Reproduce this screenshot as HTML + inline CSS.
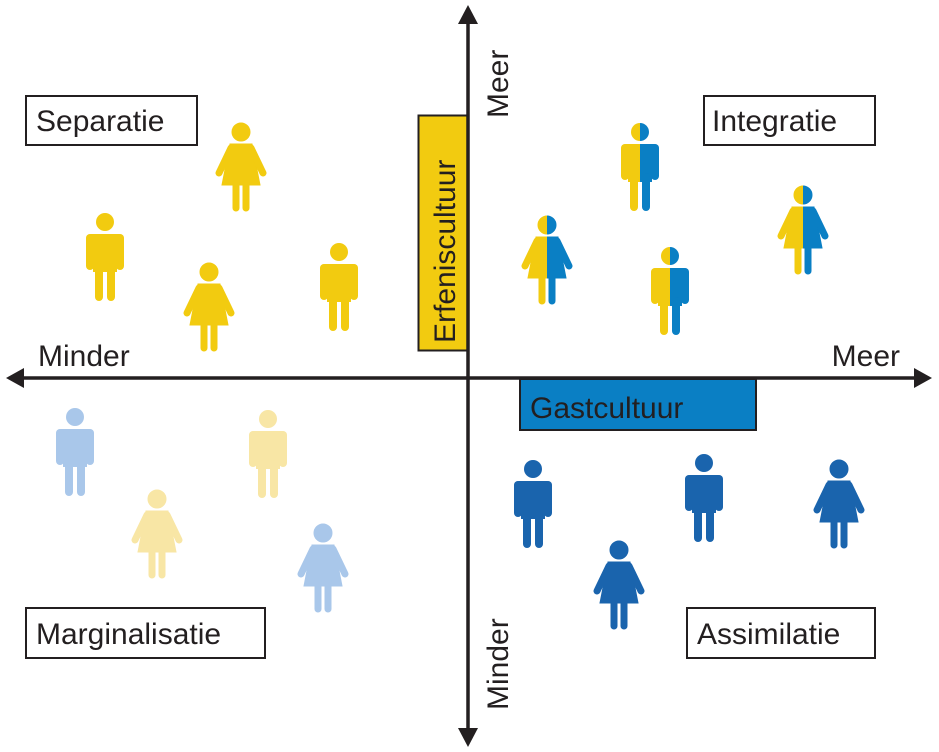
<!DOCTYPE html>
<html><head><meta charset="utf-8"><style>body{margin:0;background:#fff}svg{display:block}text{font-family:"Liberation Sans",sans-serif;fill:#231f20}</style></head><body>
<svg width="939" height="752" viewBox="0 0 939 752" xmlns="http://www.w3.org/2000/svg">
<defs>
<g id="man">
<circle cx="0" cy="9" r="9"/>
<rect x="-19" y="21" width="38" height="12" rx="5"/>
<rect x="-19" y="21" width="8" height="36" rx="4"/>
<rect x="11" y="21" width="8" height="36" rx="4"/>
<rect x="-12" y="25" width="24" height="34"/>
<rect x="-10" y="50" width="8" height="38" rx="4"/>
<rect x="2" y="50" width="8" height="38" rx="4"/>
</g>
<g id="woman">
<circle cx="0" cy="9" r="9"/>
<polygon points="-11,21 11,21 19,62 -19,62"/>
<line x1="-10" y1="25" x2="-22" y2="50" stroke-width="7" stroke-linecap="round"/>
<line x1="10" y1="25" x2="22" y2="50" stroke-width="7" stroke-linecap="round"/>
<rect x="-8" y="55" width="6" height="33" rx="3"/>
<rect x="2" y="55" width="6" height="33" rx="3"/>
</g>
<clipPath id="L"><rect x="-40" y="-5" width="40" height="100"/></clipPath>
<clipPath id="R"><rect x="0" y="-5" width="40" height="100"/></clipPath>
</defs>
<!-- separatie -->
<g fill="#f2cb10" stroke="#f2cb10">
<use href="#woman" transform="translate(241,123)"/>
<use href="#man" transform="translate(105,213)" stroke="none"/>
<use href="#woman" transform="translate(209,263)"/>
<use href="#man" transform="translate(339,243)" stroke="none"/>
</g>
<!-- integratie split -->
<g transform="translate(640,123)"><g clip-path="url(#L)" fill="#f2cb10"><use href="#man"/></g><g clip-path="url(#R)" fill="#0a7fc4"><use href="#man"/></g></g>
<g transform="translate(670,247)"><g clip-path="url(#L)" fill="#f2cb10"><use href="#man"/></g><g clip-path="url(#R)" fill="#0a7fc4"><use href="#man"/></g></g>
<g transform="translate(547,216)"><g clip-path="url(#L)" fill="#f2cb10" stroke="#f2cb10"><use href="#woman"/></g><g clip-path="url(#R)" fill="#0a7fc4" stroke="#0a7fc4"><use href="#woman"/></g></g>
<g transform="translate(803,186)"><g clip-path="url(#L)" fill="#f2cb10" stroke="#f2cb10"><use href="#woman"/></g><g clip-path="url(#R)" fill="#0a7fc4" stroke="#0a7fc4"><use href="#woman"/></g></g>
<!-- marginalisatie -->
<use href="#man" transform="translate(75,408)" fill="#a9c7ea"/>
<use href="#woman" transform="translate(323,524)" fill="#a9c7ea" stroke="#a9c7ea"/>
<use href="#man" transform="translate(268,410)" fill="#f8e6a5"/>
<use href="#woman" transform="translate(157,490)" fill="#f8e6a5" stroke="#f8e6a5"/>
<!-- assimilatie -->
<g fill="#1a64ad" stroke="#1a64ad">
<use href="#man" transform="translate(533,460)" stroke="none"/>
<use href="#man" transform="translate(704,454)" stroke="none"/>
<use href="#woman" transform="translate(839,460)"/>
<use href="#woman" transform="translate(619,541)"/>
</g>
<!-- boxes -->
<rect x="418.5" y="115.5" width="50" height="235" fill="#f2cb10" stroke="#231f20" stroke-width="2"/>
<text transform="translate(455,343) rotate(-90)" font-size="30">Erfeniscultuur</text>
<rect x="520" y="379" width="236" height="51" fill="#0a7fc4" stroke="#231f20" stroke-width="2"/>
<text x="530" y="418" font-size="30">Gastcultuur</text>
<g fill="#fff" stroke="#231f20" stroke-width="2">
<rect x="26" y="96" width="171" height="49"/>
<rect x="704" y="96" width="171" height="49"/>
<rect x="26" y="608" width="239" height="50"/>
<rect x="687" y="608" width="188" height="50"/>
</g>
<g font-size="30">
<text x="36" y="131">Separatie</text>
<text x="712" y="131">Integratie</text>
<text x="36" y="644">Marginalisatie</text>
<text x="697" y="644">Assimilatie</text>
<text x="38" y="366">Minder</text>
<text x="900" y="366" text-anchor="end">Meer</text>
<text transform="translate(508,118) rotate(-90)">Meer</text>
<text transform="translate(508,710) rotate(-90)">Minder</text>
</g>
<!-- axes -->
<g stroke="#231f20" stroke-width="3.5">
<line x1="20" y1="378" x2="918" y2="378"/>
<line x1="468" y1="18" x2="468" y2="733"/>
</g>
<g fill="#231f20">
<polygon points="6,378 24,368 24,388"/>
<polygon points="932,378 914,368 914,388"/>
<polygon points="468,5 458,24 478,24"/>
<polygon points="468,747 458,728 478,728"/>
</g>
</svg>
</body></html>
